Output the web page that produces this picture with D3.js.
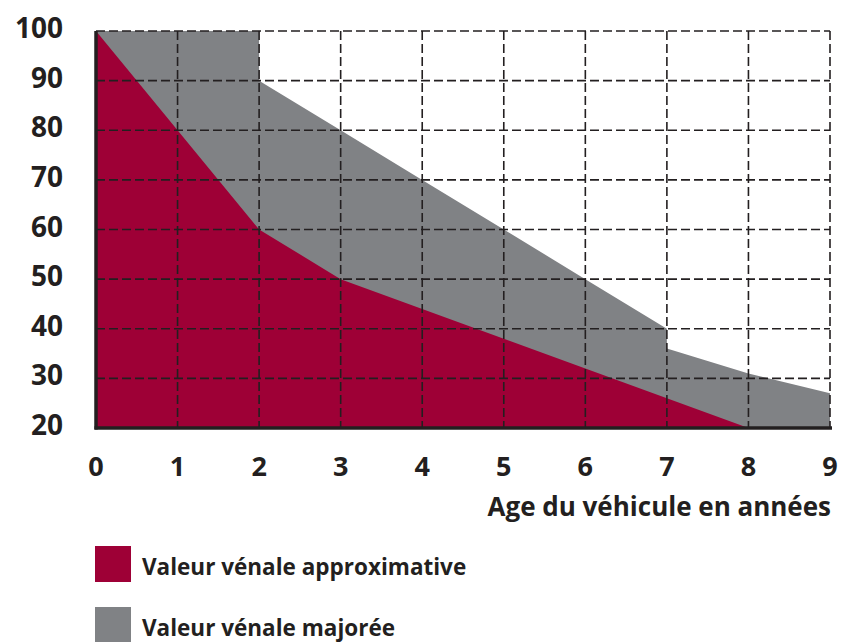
<!DOCTYPE html>
<html>
<head>
<meta charset="utf-8">
<script src="https://cdn.jsdelivr.net/npm/d3@7"></script>
<style>
  body { margin: 0; background: #fff; }
  text { font-family: "Open Sans", Lato, sans-serif; font-weight: 700; fill: #231f20; }
</style>
</head>
<body>
<div id="chart"></div>
<script>
// values
const ageTicks = [0, 1, 2, 3, 4, 5, 6, 7, 8, 9];
const valueTicks = [20, 30, 40, 50, 60, 70, 80, 90, 100];

// valeur vénale approximative (age, %)
const approxAge = [0, 1, 2, 3, 4, 5, 6, 7, 8, 9];
const approxValue = [100, 80, 60, 50, 44, 38, 32, 26, 20, 20];

// valeur vénale majorée, with two vertical drops (at 2 and 7)
const majAge = [0, 2, 2, 3, 4, 5, 6, 7, 7, 8, 9];
const majValue = [100, 100, 90, 80, 70, 60, 50, 40, 36, 31, 27];

const seriesNames = ["Valeur vénale approximative", "Valeur vénale majorée"];
const seriesColors = ["#9e0036", "#808285"];
const axisTitle = "Age du véhicule en années";

const W = 841, H = 642;
const margin = { top: 31, right: 11, bottom: 214, left: 96 };
const width = W - margin.left - margin.right;
const height = H - margin.top - margin.bottom;

const svg = d3.select("#chart").append("svg")
    .attr("width", W)
    .attr("height", H);

const g = svg.append("g")
    .attr("transform", `translate(${margin.left},${margin.top})`);

const x = d3.scaleLinear().domain([0, 9]).range([0, width]);
const y = d3.scaleLinear().domain([20, 100]).range([height, 0]);

const area = d3.area()
    .x(d => x(d[0]))
    .y0(y(20))
    .y1(d => y(d[1]));

const majData = majAge.map((a, i) => [a, majValue[i]]);
const approxData = approxAge.map((a, i) => [a, approxValue[i]]);

g.append("path")
    .attr("d", area(majData))
    .attr("fill", seriesColors[1]);

g.append("path")
    .attr("d", area(approxData))
    .attr("fill", seriesColors[0]);

// dashed grid on top of the areas
const dash = "9,4";
g.selectAll("line.hgrid")
    .data(valueTicks.filter(v => v > 20))
    .enter()
    .append("line")
    .attr("class", "hgrid")
    .attr("x1", 0)
    .attr("x2", width)
    .attr("y1", d => y(d))
    .attr("y2", d => y(d))
    .attr("stroke", "#231f20")
    .attr("stroke-width", 1.6)
    .attr("stroke-dasharray", dash);

g.selectAll("line.vgrid")
    .data(ageTicks.filter(a => a > 0))
    .enter()
    .append("line")
    .attr("class", "vgrid")
    .attr("x1", d => x(d))
    .attr("x2", d => x(d))
    .attr("y1", 0)
    .attr("y2", height)
    .attr("stroke", "#231f20")
    .attr("stroke-width", 1.6)
    .attr("stroke-dasharray", dash);

// solid axes
g.append("line")
    .attr("x1", 0).attr("x2", 0)
    .attr("y1", 0).attr("y2", height + 1.5)
    .attr("stroke", "#231f20")
    .attr("stroke-width", 3.5);

g.append("line")
    .attr("x1", -1.5).attr("x2", width + 2)
    .attr("y1", height).attr("y2", height)
    .attr("stroke", "#231f20")
    .attr("stroke-width", 3.5);

// tick labels
g.selectAll("text.ylab")
    .data(valueTicks)
    .enter()
    .append("text")
    .attr("class", "ylab")
    .attr("x", -33)
    .attr("y", d => y(d) - 4)
    .attr("text-anchor", "end")
    .attr("dominant-baseline", "central")
    .style("font-size", "28px")
    .text(d => d);

g.selectAll("text.xlab")
    .data(ageTicks)
    .enter()
    .append("text")
    .attr("class", "xlab")
    .attr("x", d => x(d))
    .attr("y", height + 48)
    .attr("text-anchor", "middle")
    .style("font-size", "27px")
    .text(d => d);

g.append("text")
    .attr("x", width + 1)
    .attr("y", height + 88)
    .attr("text-anchor", "end")
    .style("font-size", "26px")
    .text(axisTitle);

// legend
const legend = svg.append("g")
    .attr("transform", "translate(95,546)");

legend.selectAll("rect")
    .data(seriesNames)
    .enter()
    .append("rect")
    .attr("x", 0)
    .attr("y", (d, i) => i * 61)
    .attr("width", 36)
    .attr("height", 36)
    .attr("fill", (d, i) => seriesColors[i]);

legend.selectAll("text")
    .data(seriesNames)
    .enter()
    .append("text")
    .attr("x", 47)
    .attr("y", (d, i) => i * 61 + 29)
    .style("font-size", "22.5px")
    .text(d => d);
</script>
</body>
</html>
